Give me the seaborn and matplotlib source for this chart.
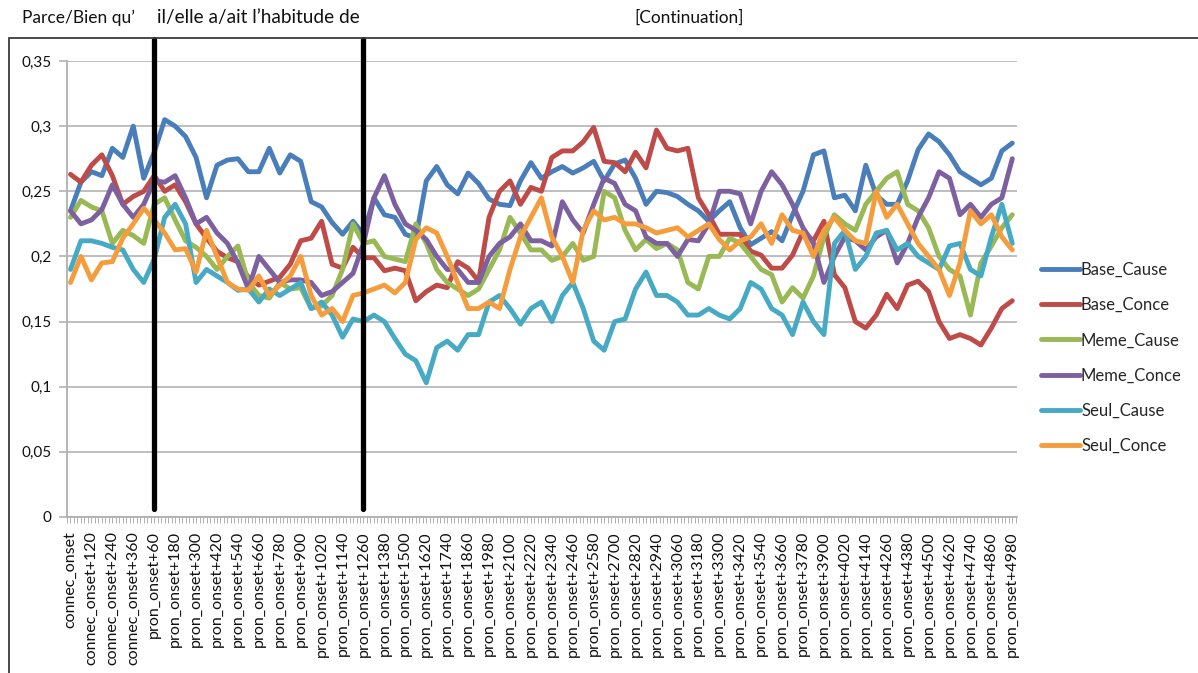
import numpy as np
import pandas as pd
import matplotlib
matplotlib.use("Agg")
import matplotlib.pyplot as plt
import seaborn as sns
from matplotlib.lines import Line2D
from matplotlib.patches import Rectangle

# Time bins (60 ms) relative to connective onset, then pronoun onset
connec_steps = list(range(0, 361, 60))
pron_steps = list(range(0, 4981, 60))
categories = (["connec_onset" if s == 0 else f"connec_onset+{s}" for s in connec_steps]
              + ["pron_onset" if s == 0 else f"pron_onset+{s}" for s in pron_steps])

series_names = ["Base_Cause", "Base_Conce", "Meme_Cause", "Meme_Conce", "Seul_Cause", "Seul_Conce"]

base_cause = [
    0.235, 0.257, 0.265, 0.262, 0.283, 0.276, 0.300, 0.260, 0.280, 0.305,
    0.300, 0.292, 0.276, 0.245, 0.270, 0.274, 0.275, 0.265, 0.265, 0.283,
    0.264, 0.278, 0.273, 0.242, 0.238, 0.226, 0.217, 0.227, 0.217, 0.245,
    0.232, 0.230, 0.217, 0.214, 0.258, 0.269, 0.255, 0.248, 0.264, 0.256,
    0.244, 0.240, 0.239, 0.258, 0.272, 0.260, 0.265, 0.269, 0.264, 0.268,
    0.273, 0.258, 0.271, 0.274, 0.260, 0.240, 0.250, 0.249, 0.246, 0.240,
    0.235, 0.227, 0.235, 0.242, 0.222, 0.209, 0.214, 0.219, 0.212, 0.232,
    0.250, 0.278, 0.281, 0.245, 0.247, 0.235, 0.270, 0.247, 0.240, 0.240,
    0.258, 0.282, 0.294, 0.288, 0.278, 0.265, 0.260, 0.255, 0.260, 0.281,
    0.287,
]
base_conce = [
    0.263, 0.257, 0.270, 0.278, 0.262, 0.240, 0.246, 0.250, 0.262, 0.250,
    0.255, 0.242, 0.225, 0.214, 0.204, 0.199, 0.196, 0.184, 0.178, 0.181,
    0.184, 0.194, 0.212, 0.214, 0.227, 0.194, 0.191, 0.207, 0.199, 0.199,
    0.189, 0.191, 0.189, 0.166, 0.173, 0.178, 0.176, 0.196, 0.191, 0.181,
    0.230, 0.250, 0.258, 0.240, 0.253, 0.250, 0.276, 0.281, 0.281, 0.288,
    0.299, 0.273, 0.272, 0.265, 0.280, 0.268, 0.297, 0.283, 0.281, 0.283,
    0.245, 0.232, 0.217, 0.217, 0.217, 0.204, 0.201, 0.191, 0.191, 0.201,
    0.219, 0.212, 0.227, 0.186, 0.176, 0.150, 0.145, 0.155, 0.171, 0.160,
    0.178, 0.181, 0.173, 0.150, 0.137, 0.140, 0.137, 0.132, 0.145, 0.160,
    0.166,
]
meme_cause = [
    0.230, 0.243, 0.238, 0.235, 0.210, 0.220, 0.216, 0.210, 0.240, 0.245,
    0.228, 0.212, 0.207, 0.200, 0.190, 0.200, 0.208, 0.180, 0.170, 0.168,
    0.180, 0.175, 0.176, 0.160, 0.162, 0.170, 0.190, 0.225, 0.210, 0.212,
    0.200, 0.198, 0.196, 0.225, 0.210, 0.190, 0.180, 0.175, 0.170, 0.175,
    0.190, 0.205, 0.230, 0.218, 0.205, 0.205, 0.197, 0.200, 0.210, 0.197,
    0.200, 0.250, 0.245, 0.220, 0.205, 0.213, 0.206, 0.210, 0.205, 0.180,
    0.175, 0.200, 0.200, 0.214, 0.210, 0.200, 0.190, 0.186, 0.165, 0.176,
    0.168, 0.185, 0.215, 0.232, 0.225, 0.220, 0.240, 0.250, 0.260, 0.265,
    0.240, 0.235, 0.222, 0.200, 0.190, 0.185, 0.155, 0.195, 0.208, 0.222,
    0.232,
]
meme_conce = [
    0.235, 0.225, 0.228, 0.236, 0.255, 0.240, 0.230, 0.240, 0.258, 0.257,
    0.262, 0.245, 0.225, 0.230, 0.218, 0.210, 0.195, 0.175, 0.200, 0.190,
    0.180, 0.182, 0.182, 0.180, 0.170, 0.173, 0.180, 0.187, 0.210, 0.245,
    0.262, 0.240, 0.225, 0.220, 0.213, 0.200, 0.190, 0.190, 0.180, 0.180,
    0.200, 0.210, 0.215, 0.225, 0.212, 0.212, 0.208, 0.242, 0.228, 0.218,
    0.240, 0.260, 0.256, 0.240, 0.235, 0.215, 0.210, 0.210, 0.200, 0.213,
    0.212, 0.225, 0.250, 0.250, 0.248, 0.225, 0.250, 0.265, 0.255, 0.240,
    0.222, 0.210, 0.180, 0.200, 0.215, 0.212, 0.205, 0.215, 0.220, 0.195,
    0.210, 0.230, 0.245, 0.265, 0.260, 0.232, 0.240, 0.230, 0.240, 0.245,
    0.275,
]
seul_cause = [
    0.190, 0.212, 0.212, 0.210, 0.207, 0.205, 0.190, 0.180, 0.198, 0.230,
    0.240, 0.225, 0.180, 0.190, 0.185, 0.180, 0.174, 0.175, 0.165, 0.175,
    0.170, 0.175, 0.180, 0.160, 0.165, 0.155, 0.138, 0.152, 0.150, 0.155,
    0.150, 0.137, 0.125, 0.120, 0.103, 0.130, 0.135, 0.128, 0.140, 0.140,
    0.165, 0.170, 0.160, 0.148, 0.160, 0.165, 0.150, 0.170, 0.180, 0.160,
    0.135, 0.128, 0.150, 0.152, 0.175, 0.188, 0.170, 0.170, 0.165, 0.155,
    0.155, 0.160, 0.155, 0.152, 0.160, 0.180, 0.175, 0.160, 0.155, 0.140,
    0.165, 0.150, 0.140, 0.210, 0.220, 0.190, 0.200, 0.218, 0.220, 0.205,
    0.210, 0.200, 0.195, 0.190, 0.208, 0.210, 0.190, 0.185, 0.215, 0.240,
    0.210,
]
seul_conce = [
    0.180, 0.200, 0.182, 0.195, 0.196, 0.214, 0.225, 0.237, 0.228, 0.218,
    0.205, 0.206, 0.188, 0.220, 0.200, 0.180, 0.175, 0.174, 0.185, 0.170,
    0.178, 0.185, 0.200, 0.170, 0.155, 0.160, 0.150, 0.170, 0.172, 0.175,
    0.178, 0.172, 0.180, 0.213, 0.222, 0.218, 0.200, 0.180, 0.160, 0.160,
    0.165, 0.160, 0.190, 0.215, 0.230, 0.245, 0.215, 0.200, 0.180, 0.220,
    0.235, 0.228, 0.230, 0.225, 0.225, 0.222, 0.218, 0.220, 0.222, 0.215,
    0.220, 0.225, 0.213, 0.205, 0.212, 0.215, 0.225, 0.210, 0.232, 0.220,
    0.218, 0.200, 0.220, 0.230, 0.220, 0.212, 0.210, 0.250, 0.230, 0.240,
    0.225, 0.210, 0.200, 0.190, 0.170, 0.195, 0.235, 0.225, 0.232, 0.215,
    0.205,
]

y_ticks = [0, 0.05, 0.1, 0.15, 0.2, 0.25, 0.3, 0.35]
y_tick_labels = ["0", "0,05", "0,1", "0,15", "0,2", "0,25", "0,3", "0,35"]
markers_at = ["pron_onset+60", "pron_onset+1260"]

colors = ["#4a7ebb", "#be4b48", "#98b954", "#7d60a0", "#46aac5", "#f59d3d"]

values = [base_cause, base_conce, meme_cause, meme_conce, seul_cause, seul_conce]
df = pd.concat(
    [pd.DataFrame({"time": categories, "value": v, "series": name})
     for name, v in zip(series_names, values)],
    ignore_index=True,
)

sns.set_theme(style="white")
plt.rcParams["font.family"] = ["Lato", "DejaVu Sans"]

W, H = 1198, 673
LW = 3.5
fig = plt.figure(figsize=(W / 100, H / 100), dpi=100)
ax = fig.add_axes([67 / W, 1 - 517 / H, 950 / W, 456 / H])

sns.lineplot(
    data=df, x="time", y="value", hue="series", hue_order=series_names,
    palette=colors, linewidth=LW, sort=False, legend=False, ax=ax,
)
for ln in ax.get_lines():
    ln.set_solid_joinstyle("round")
    ln.set_solid_capstyle("round")

n = len(categories)
ax.set_xlim(-0.29, n - 0.55)
ax.set_ylim(0, 0.35)
ax.set_yticks(y_ticks)
ax.set_yticklabels(y_tick_labels)
ax.set_xticks(np.arange(n))
ax.set_xticklabels([c if i % 2 == 0 else "" for i, c in enumerate(categories)], rotation=90)
ax.set_xticks(np.arange(-1 / 3, n - 0.5, 1 / 3), minor=True)
ax.set_xlabel("")
ax.set_ylabel("")

ax.yaxis.grid(True, color="#b9b9b9", linewidth=1.3)
ax.xaxis.grid(False)
ax.set_axisbelow(True)
for side in ["top", "right"]:
    ax.spines[side].set_visible(False)
for side in ["left", "bottom"]:
    ax.spines[side].set_color("#b0b0b0")
    ax.spines[side].set_linewidth(1.3)

ax.tick_params(axis="y", which="major", left=True, length=6, width=1.3, color="#b9b9b9",
               labelsize=11, labelcolor="#111111", pad=5)
ax.tick_params(axis="x", which="both", bottom=True, length=4, width=0.7, color="#b0b0b0",
               labelsize=11.5, labelcolor="#111111", pad=6)

# Phase boundaries
for lab in markers_at:
    ax.axvline(categories.index(lab), ymin=0.018, ymax=1.048, color="black",
               linewidth=3.8, clip_on=False, zorder=5)

handles = [Line2D([0], [0], color=c, linewidth=LW) for c in colors]
fig.legend(handles, series_names, loc="upper left",
           bbox_to_anchor=(1041 / W, 1 - 262 / H), bbox_transform=fig.transFigure,
           frameon=False, fontsize=12, handlelength=2.35, handletextpad=0.05,
           labelspacing=1.15, borderpad=0, borderaxespad=0)

fig.text(22 / W, 1 - 18 / H, "Parce/Bien qu’", fontsize=12.5, va="center", ha="left", color="#111111")
fig.text(157 / W, 1 - 18 / H, "il/elle a/ait l’habitude de", fontsize=13.7, va="center", ha="left", color="#111111")
fig.text(634 / W, 1 - 18 / H, "[Continuation]", fontsize=12.4, va="center", ha="left", color="#111111")

fig.patches.append(Rectangle((9 / W, -0.05), 1.2, 1 - 38 / H + 0.05, transform=fig.transFigure,
                             fill=False, edgecolor="#3c3c3c", linewidth=1.3))

fig.savefig("out.png", dpi=100, facecolor="white")
